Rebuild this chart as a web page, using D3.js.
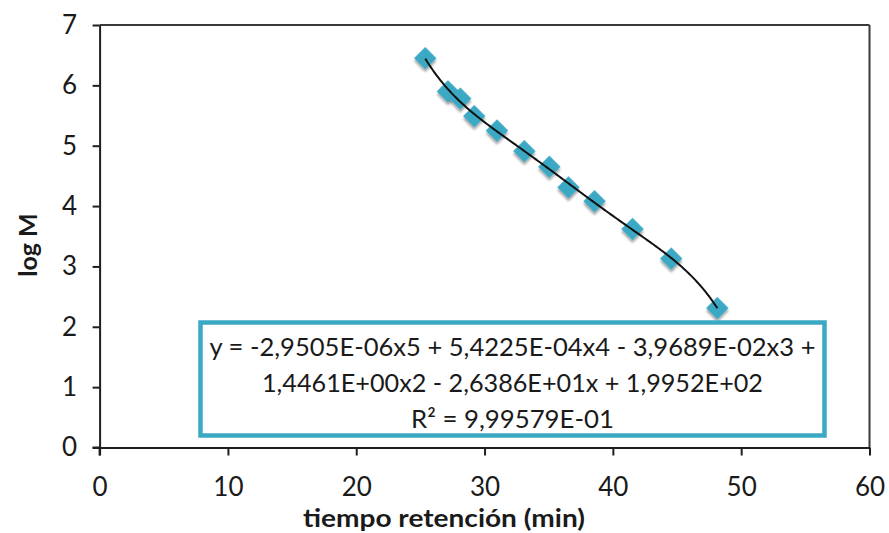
<!DOCTYPE html>
<html><head><meta charset="utf-8">
<script src="https://cdn.jsdelivr.net/npm/d3@7"></script>
<style>body{margin:0;background:#fff}svg{display:block;background:#fff}</style>
</head><body><svg id="c" width="889" height="533"></svg>
<script>
// ---- data ----
const retentionTime = [25.38, 27.15, 28.11, 29.2, 30.97, 33.1, 35.05, 36.54, 38.57, 41.53, 44.55, 48.14];
const logM = [6.45, 5.90, 5.78, 5.49, 5.25, 4.91, 4.65, 4.31, 4.08, 3.62, 3.13, 2.31];
const xTicks = [0, 10, 20, 30, 40, 50, 60];
const yTicks = [0, 1, 2, 3, 4, 5, 6, 7];
const equationLines = [
  "y = -2,9505E-06x5 + 5,4225E-04x4 - 3,9689E-02x3 +",
  "1,4461E+00x2 - 2,6386E+01x + 1,9952E+02",
  "R\u00B2 = 9,99579E-01"
];
const xTitle = "tiempo retención (min)";
const yTitle = "log M";
const trendDegree = 5;

// ---- polynomial least-squares trendline (like the spreadsheet's) ----
function polyFit(xs, ys, deg) {
  const m = d3.mean(xs), s = d3.deviation(xs);
  const us = xs.map(v => (v - m) / s);
  const n = deg + 1;
  const A = Array.from({length: n}, () => new Array(n + 1).fill(0));
  us.forEach((u, k) => {
    for (let i = 0; i < n; i++) {
      for (let j = 0; j < n; j++) A[i][j] += Math.pow(u, i + j);
      A[i][n] += ys[k] * Math.pow(u, i);
    }
  });
  for (let c = 0; c < n; c++) {
    let p = c;
    for (let r = c + 1; r < n; r++) if (Math.abs(A[r][c]) > Math.abs(A[p][c])) p = r;
    [A[c], A[p]] = [A[p], A[c]];
    for (let r = 0; r < n; r++) {
      if (r === c) continue;
      const f = A[r][c] / A[c][c];
      for (let k = c; k <= n; k++) A[r][k] -= f * A[c][k];
    }
  }
  const coef = A.map((row, i) => row[n] / row[i]);
  return x => { const u = (x - m) / s; return coef.reduce((acc, c, i) => acc + c * Math.pow(u, i), 0); };
}
const fit = polyFit(retentionTime, logM, trendDegree);
const xMin = d3.min(retentionTime), xMax = d3.max(retentionTime);
const trend = d3.range(0, 201).map(i => { const t = xMin + (xMax - xMin) * i / 200; return [t, fit(t)]; });

// ---- drawing ----
const svg = d3.select("#c");
const font = "Lato, 'Open Sans', sans-serif";
const x = d3.scaleLinear().domain([0, 60]).range([99.6, 869.5]);
const y = d3.scaleLinear().domain([0, 7]).range([447.5, 25]);

const defs = svg.append("defs");
const f = defs.append("filter").attr("id", "sh").attr("x", "-50%").attr("y", "-50%").attr("width", "200%").attr("height", "200%");
f.append("feDropShadow").attr("dx", 2).attr("dy", 2).attr("stdDeviation", 1.3).attr("flood-color", "#000").attr("flood-opacity", 0.35);

// plot border top/right
svg.append("line").attr("x1", x(0)).attr("x2", x(60)).attr("y1", y(7)).attr("y2", y(7))
  .attr("stroke", "#3a3a3a").attr("stroke-width", 2);
svg.append("line").attr("x1", x(60)).attr("x2", x(60)).attr("y1", y(7)).attr("y2", y(0))
  .attr("stroke", "#3a3a3a").attr("stroke-width", 2);

const xAxis = svg.append("g").attr("transform", `translate(0,${y(0)})`)
  .call(d3.axisBottom(x).tickValues(xTicks).tickFormat(d3.format("d")).tickSize(8).tickSizeOuter(0).tickPadding(22));
const yAxis = svg.append("g").attr("transform", `translate(${x(0)},0)`)
  .call(d3.axisLeft(y).tickValues(yTicks).tickFormat(d3.format("d")).tickSize(7).tickSizeOuter(0).tickPadding(15.5));
[xAxis, yAxis].forEach(g => {
  g.select(".domain").attr("stroke", "#1e1e1e").attr("stroke-width", 2);
  g.selectAll(".tick line").attr("stroke", "#1e1e1e").attr("stroke-width", 2);
  g.selectAll(".tick text").attr("font-family", font).attr("font-size", 26).attr("fill", "#1a1a1a");
});
// extend axes past the crossing like the reference
svg.append("line").attr("x1", x(0)).attr("x2", x(0)).attr("y1", y(0)).attr("y2", y(0) + 8).attr("stroke", "#1e1e1e").attr("stroke-width", 2);
svg.append("line").attr("x1", x(0) - 7).attr("x2", x(0)).attr("y1", y(0)).attr("y2", y(0)).attr("stroke", "#1e1e1e").attr("stroke-width", 2);

// markers
const diamond = d3.symbol().type(d3.symbolSquare).size(250);
svg.append("g").selectAll("path").data(retentionTime).join("path")
  .attr("d", diamond)
  .attr("transform", (d, i) => `translate(${x(d)},${y(logM[i])}) rotate(45)`)
  .attr("fill", "#3ba8c4")
  .attr("filter", "url(#sh)");

// trendline
svg.append("path").datum(trend)
  .attr("d", d3.line().x(d => x(d[0])).y(d => y(d[1])).curve(d3.curveBasis))
  .attr("fill", "none").attr("stroke", "#111").attr("stroke-width", 2);

// equation box
svg.append("rect").attr("x", 200.5).attr("y", 322.5).attr("width", 624).attr("height", 113)
  .attr("fill", "#fff").attr("stroke", "#3ca9c4").attr("stroke-width", 4.5);
const eqLengths = [606, 501, 203];
svg.append("g").selectAll("text").data(equationLines).join("text")
  .attr("x", 512.5).attr("y", (d, i) => 356 + i * 36)
  .attr("text-anchor", "middle")
  .attr("font-family", font).attr("font-size", 25).attr("fill", "#1a1a1a")
  .attr("textLength", (d, i) => eqLengths[i]).attr("lengthAdjust", "spacingAndGlyphs")
  .text(d => d);

// axis titles
svg.append("text").attr("x", 444).attr("y", 527).attr("text-anchor", "middle")
  .attr("font-family", font).attr("font-weight", "bold").attr("font-size", 25).attr("fill", "#1a1a1a")
  .attr("textLength", 282).attr("lengthAdjust", "spacingAndGlyphs")
  .text(xTitle);
svg.append("text").attr("transform", "translate(37,245) rotate(-90)").attr("text-anchor", "middle")
  .attr("font-family", font).attr("font-weight", "bold").attr("font-size", 25).attr("fill", "#1a1a1a")
  .text(yTitle);
</script></body></html>
